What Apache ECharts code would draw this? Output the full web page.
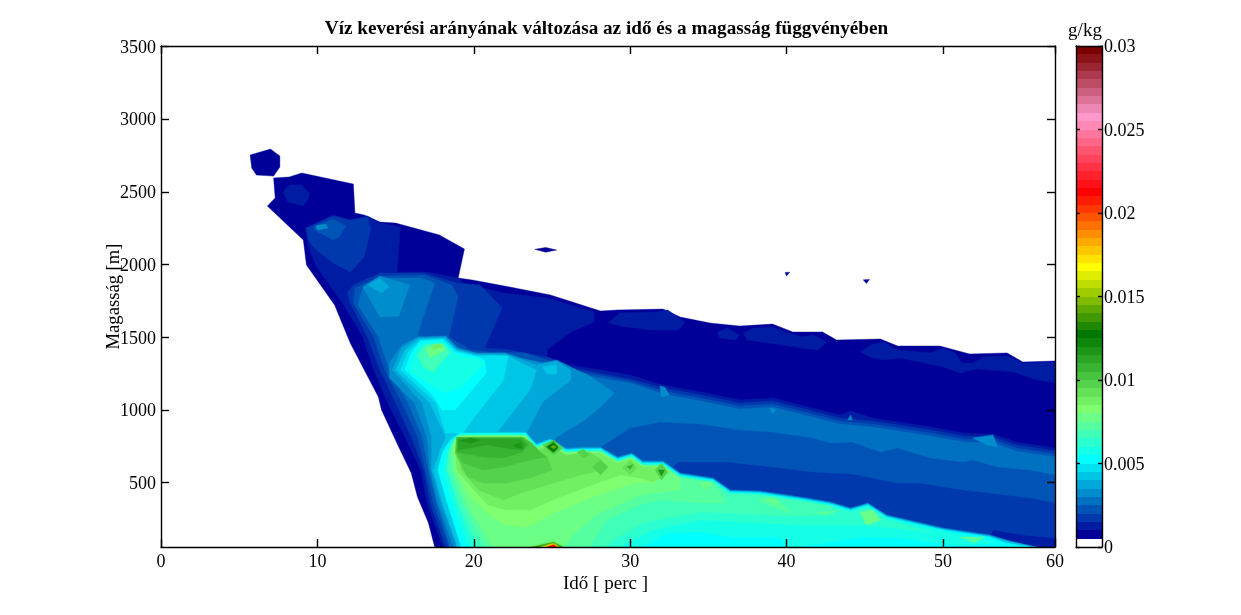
<!DOCTYPE html>
<html><head><meta charset="utf-8">
<style>html,body{margin:0;padding:0;background:#fff}#c{width:1241px;height:615px}</style>
<script src="https://cdn.jsdelivr.net/npm/echarts@6/dist/echarts.min.js"></script>
</head><body><div id="c"></div>
<script>
// Axis ticks
const xTickValues=[0,10,20,30,40,50,57.16];
const xTickLabels=['0','10','20','30','40','50','60'];
const yTickValues=[500,1000,1500,2000,2500,3000,3500];
const barTickValues=[0,0.005,0.01,0.015,0.02,0.025,0.03];
const barLevels=[0,.0005,.001,.0015,.002,.0025,.003,.0035,.004,.0045,.005,.0055,.006,.0065,.007,.0075,.008,.0085,.009,.0095,.01,.0105,.011,.0115,.012,.0125,.013,.0135,.014,.0145,.015,.0155,.016,.0165,.017,.0175,.018,.0185,.019,.0195,.02,.0205,.021,.0215,.022,.0225,.023,.0235,.024,.0245,.025,.0255,.026,.0265,.027,.0275,.028,.0285,.029,.0295];
const colorStops=[[0,'#ffffff'],[1,'#000099'],[5,'#0070c0'],[10,'#00ffff'],[16,'#80ff70'],[25,'#007700'],[33,'#ffff00'],[42,'#ff0000'],[51,'#ff99cc'],[59,'#7a0000']];

// Contour outlines: [time (min), height (m)]; the name gives the contour level (x 0.0005 g/kg)
const L01_main=[[17.5,57],[17.1,222],[16.4,401],[16.0,566],[15.2,745],[14.1,1000],[13.9,1089],[12.9,1295],[12.1,1460],[11.1,1722],[9.3,1997],[9.1,2169],[6.8,2403],[7.3,2458],[7.2,2596],[8.2,2603],[9.0,2630],[12.3,2554],[12.4,2355],[13.0,2341],[14.0,2293],[15.0,2286],[17.8,2204],[19.4,2107],[19.0,1908],[19.9,1894],[22.3,1846],[24.9,1791],[28.1,1681],[29.2,1688],[32.1,1694],[33.2,1639],[35.1,1598],[37.0,1577],[39.1,1591],[40.4,1536],[42.3,1536],[43.2,1481],[46.0,1488],[47.1,1440],[49.8,1440],[51.7,1385],[54.1,1392],[55.1,1330],[57.16,1337],[57.16,57]];
const L01_blob=[[5.7,2754],[7.0,2795],[7.6,2747],[7.6,2671],[7.2,2609],[6.1,2616],[5.8,2665]];
const L01_isle1=[[23.9,2105],[24.6,2118],[25.3,2100],[24.6,2085]];
const L01_isle2=[[39.9,1945],[40.2,1948],[40.0,1922]];
const L01_isle3=[[44.9,1895],[45.3,1898],[45.1,1870]];
const L02_blob=[[7.8,2500],[8.2,2548],[9.0,2548],[9.5,2493],[9.4,2451],[9.1,2403],[8.1,2431]];
const L02_main=[[18.0,57],[17.0,360],[16.6,587],[15.6,814],[14.5,1048],[13.6,1275],[12.9,1502],[11.6,1736],[10.0,1977],[9.5,2100],[9.2,2252],[11.0,2341],[12.1,2307],[13.2,2334],[14.0,2286],[15.3,2259],[15.1,1949],[17.0,1949],[19.0,1908],[19.3,1873],[21.9,1805],[24.7,1770],[27.7,1674],[27.7,1605],[26.2,1536],[24.7,1412],[24.7,1364],[26.2,1309],[30.0,1240],[32.1,1172],[34.5,1123],[37.0,1068],[39.1,1082],[40.9,1034],[43.4,965],[44.1,993],[45.5,945],[49.2,883],[51.3,841],[53.2,834],[54.7,779],[57.16,738],[57.16,57]];
const L02_p1=[[28.6,1598],[29.3,1667],[31.6,1674],[32.4,1688],[33.5,1605],[33.1,1550],[31.3,1550],[29.3,1577]];
const L02_p2=[[35.6,1536],[36.2,1564],[37.0,1516],[36.7,1481],[35.7,1495]];
const L02_p3=[[37.2,1529],[37.9,1564],[39.1,1571],[39.9,1536],[41.0,1502],[41.7,1516],[42.6,1467],[42.0,1412],[40.9,1426],[38.9,1460],[37.5,1481]];
const L02_p4=[[44.7,1399],[45.5,1454],[46.2,1467],[47.1,1412],[49.2,1392],[50.0,1426],[50.8,1392],[51.2,1323],[51.9,1323],[52.6,1364],[54.1,1371],[55.1,1323],[57.16,1330],[57.16,1185],[56.0,1206],[54.5,1261],[52.2,1282],[51.1,1254],[50.0,1295],[47.3,1357],[46.2,1344],[45.5,1357]];
const L03_up=[[9.3,2252],[11.0,2334],[12.1,2307],[13.2,2327],[13.4,2245],[13.0,2052],[12.1,1949],[11.0,2011],[9.8,2114],[9.4,2169]];
const L03_main=[[18.2,57],[17.2,360],[16.8,587],[16.0,814],[15.0,1048],[14.0,1275],[13.2,1502],[12.1,1736],[11.9,1805],[12.3,1860],[14.0,1942],[16.8,1942],[18.9,1873],[20.4,1860],[21.8,1701],[20.7,1426],[22.3,1412],[24.9,1357],[26.3,1289],[30.0,1213],[32.1,1151],[34.5,1103],[37.0,1048],[39.1,1061],[40.9,1013],[43.4,945],[45.5,924],[49.2,862],[51.3,821],[53.2,814],[54.7,759],[57.16,717],[57.16,119],[55.1,140],[54.3,153],[53.2,174],[52.7,57]];
const L04_up=[[9.8,2265],[11.0,2314],[11.8,2265],[11.4,2190],[11.0,2169],[10.4,2204],[9.8,2238]];
const L04_main=[[18.4,57],[17.4,360],[16.9,587],[16.4,814],[15.4,1048],[14.3,1275],[13.6,1502],[12.3,1736],[12.4,1839],[14.0,1921],[16.9,1928],[18.6,1860],[19.0,1777],[18.4,1502],[19.8,1412],[21.0,1399],[23.3,1392],[24.7,1344],[26.5,1268],[30.0,1199],[32.1,1130],[34.5,1082],[37.0,1027],[39.1,1041],[40.9,993],[43.4,924],[45.5,903],[49.2,841],[51.3,800],[53.2,793],[54.7,738],[57.16,697],[57.16,360],[55.6,394],[51.3,449],[48.5,497],[47.1,497],[44.2,559],[42.8,566],[41.7,573],[39.1,607],[36.2,642],[33.1,642],[32.5,587],[30.6,380],[21.7,57]];
const L05_main=[[18.5,57],[17.6,360],[17.1,587],[16.7,814],[15.8,1048],[14.6,1275],[13.9,1502],[12.6,1722],[12.9,1839],[14.3,1908],[16.6,1908],[17.5,1873],[16.4,1516],[17.5,1447],[19.1,1399],[21.9,1357],[24.9,1323],[26.6,1247],[30.0,1185],[32.1,1110],[34.5,1061],[37.0,1006],[39.1,1020],[40.9,972],[43.4,903],[45.5,883],[49.2,821],[51.3,779],[53.2,772],[54.7,717],[57.16,676],[57.16,552],[55.6,587],[53.5,607],[51.9,656],[51.3,642],[49.2,669],[47.1,738],[46.0,711],[44.2,779],[42.8,772],[41.7,807],[39.1,848],[37.0,862],[34.5,903],[31.9,917],[30.0,876],[28.1,745],[27.4,587],[21.7,243]];
const L06_up=[[12.9,1846],[14.0,1921],[15.9,1860],[15.2,1646],[14.0,1639]];
const L06_tiny=[[9.9,2265],[10.5,2279],[10.7,2252],[10.0,2238]];
const L06_main=[[18.7,57],[17.7,360],[17.2,587],[17.0,814],[16.2,1048],[14.6,1220],[14.6,1323],[15.4,1447],[16.4,1502],[18.2,1509],[19.0,1426],[20.2,1392],[22.0,1392],[23.0,1357],[24.4,1323],[25.3,1344],[26.3,1289],[27.3,1240],[29.0,1117],[28.1,1020],[27.1,931],[25.3,814],[24.9,759],[23.0,449]];
const L06_p1=[[31.9,1165],[32.2,1158],[32.5,1103],[32.0,1089]];
const L06_p2=[[38.9,1013],[39.3,1006],[39.1,972]];
const L06_p3=[[51.9,807],[53.2,828],[53.5,745],[52.8,759]];
const L06_p4=[[44.1,965],[44.2,931],[43.9,931]];
const L06_rim=[[18.7,57],[17.8,360],[17.5,587],[17.7,738],[18.2,821],[19.0,855],[23.3,855],[24.0,772],[24.9,807],[25.9,738],[27.0,745],[28.1,745],[29.2,676],[30.1,704],[30.8,649],[32.1,649],[33.2,566],[35.3,532],[36.4,449],[38.3,442],[40.9,401],[42.8,367],[44.1,325],[45.2,360],[46.4,277],[50.0,188],[53.0,140],[54.3,98],[56.0,57]];
const L07_up=[[13.2,1860],[14.0,1908],[14.6,1846],[14.1,1805]];
const L07_main=[[18.9,57],[17.9,360],[17.3,587],[17.3,814],[16.7,1048],[14.8,1275],[15.4,1426],[16.4,1495],[18.2,1502],[18.9,1419],[20.2,1385],[22.0,1385],[23.1,1344],[24.0,1309],[25.3,1337],[26.2,1275],[26.2,1206],[24.4,1055],[23.4,848],[22.6,656]];
const L08_main=[[19.0,57],[18.0,360],[17.4,587],[18.2,814],[17.2,1048],[15.0,1275],[15.6,1412],[16.5,1488],[18.1,1495],[18.9,1412],[20.2,1378],[22.1,1378],[22.8,1337],[24.0,1275],[23.6,1137],[21.5,848],[21.4,656]];
const L08_p1=[[24.4,1295],[25.3,1309],[25.3,1247],[24.7,1247]];
const L08_rim=[[19.0,57],[18.0,360],[17.6,587],[17.8,724],[18.4,814],[19.0,848],[23.3,848],[24.0,765],[24.9,800],[25.9,731],[27.0,738],[28.1,738],[29.2,669],[30.1,697],[30.8,642],[32.1,642],[33.2,559],[35.3,525],[36.4,442],[38.3,435],[40.9,394],[42.8,360],[44.1,318],[45.2,353],[46.4,270],[50.0,181],[53.0,133],[54.3,91],[55.9,57]];
const L09_up=[[17.6,1048],[15.3,1275],[15.8,1399],[16.6,1481],[18.1,1488],[18.9,1405],[20.2,1371],[22.2,1371],[21.9,1206],[19.9,931],[19.3,841],[18.2,841]];
const L10_up=[[15.6,1275],[16.0,1392],[16.6,1474],[18.0,1481],[18.8,1399],[20.2,1364],[20.7,1344],[20.8,1254],[18.8,1000],[18.0,1000],[17.2,1123]];
const L10_rim=[[19.2,57],[18.3,360],[17.7,587],[18.0,711],[18.5,793],[19.1,841],[23.3,841],[24.0,758],[24.9,793],[25.9,724],[27.0,731],[28.1,731],[29.2,662],[30.1,690],[30.8,635],[32.1,635],[33.2,552],[35.3,518],[36.4,435],[38.3,428],[40.9,387],[42.8,353],[44.1,311],[45.2,346],[46.4,263],[50.0,174],[53.0,126],[54.0,84],[55.5,57]];
const L11_up=[[15.9,1261],[16.3,1426],[16.9,1467],[18.0,1467],[18.7,1399],[19.3,1364],[20.2,1357],[20.7,1323],[19.2,1158],[18.2,1117],[17.2,1172]];
const L11_low=[[19.6,57],[18.6,360],[18.0,587],[18.2,704],[18.7,779],[19.1,834],[23.3,834],[24.0,751],[24.9,786],[25.9,717],[27.0,724],[28.1,724],[29.2,655],[30.1,683],[30.8,628],[32.1,628],[33.2,545],[35.3,511],[36.4,428],[38.3,421],[40.9,380],[42.8,346],[44.1,304],[45.2,339],[46.4,256],[50.0,167],[53.6,85],[51.1,64],[47.3,119],[44.7,126],[40.9,57],[40.0,57],[39.6,126],[36.2,126],[34.5,160],[32.4,153],[30.8,57]];
const L12_low=[[20.0,57],[18.9,360],[18.3,587],[18.4,697],[18.9,772],[19.2,831],[23.3,831],[24.0,748],[24.9,783],[25.9,714],[27.0,721],[28.1,721],[29.2,652],[30.1,680],[30.8,625],[32.1,625],[33.2,542],[35.3,508],[36.4,425],[38.3,418],[40.9,377],[42.8,343],[44.1,301],[45.2,336],[46.4,253],[49.2,160],[44.7,208],[40.9,208],[37.0,229],[34.5,243],[31.5,174],[29.3,57]];
const L13_up=[[16.4,1378],[16.9,1447],[18.0,1460],[18.5,1399],[17.4,1261],[16.8,1289]];
const L13_low=[[20.3,57],[19.0,360],[18.3,587],[18.4,711],[18.6,779],[19.0,827],[23.3,827],[24.0,744],[24.9,779],[25.9,710],[27.0,717],[28.1,717],[29.2,648],[30.1,676],[30.8,621],[32.1,621],[33.2,538],[35.3,504],[36.4,421],[38.3,414],[40.9,373],[42.8,339],[43.1,277],[40.2,270],[34.5,298],[31.0,229],[29.2,126],[28.4,57]];
const L14_low=[[20.7,57],[19.3,360],[18.5,587],[18.5,711],[18.7,786],[19.1,824],[23.3,824],[24.0,741],[24.9,776],[25.9,707],[27.0,714],[28.1,714],[29.2,645],[30.1,673],[30.8,618],[32.1,618],[33.2,535],[35.3,501],[36.2,360],[34.5,360],[31.9,380],[30.6,346],[28.5,243],[27.4,57]];
const L14_p1=[[38.1,380],[39.1,401],[40.4,291],[38.7,346]];
const L14_p2=[[51.1,126],[52.7,126],[52.0,85]];
const L14_p3=[[41.7,291],[43.4,312],[42.5,277]];
const L15_up=[[16.9,1426],[18.0,1447],[18.2,1412],[17.2,1357]];
const L15_low=[[21.2,57],[19.6,346],[18.7,587],[18.6,724],[18.8,793],[19.3,821],[23.3,821],[24.0,738],[24.9,773],[25.9,704],[27.0,711],[28.1,711],[29.2,642],[30.1,670],[30.8,615],[32.1,615],[33.2,532],[33.2,449],[30.6,415],[27.8,277],[26.3,140],[25.8,57]];
const L15_p1=[[34.5,504],[35.3,504],[34.7,449]];
const L15_p2=[[44.7,298],[45.5,312],[46.0,243],[45.1,208]];
const L15_p3=[[38.6,380],[39.3,387],[39.6,346]];
const L16_low=[[19.8,401],[18.9,587],[18.7,745],[19.0,793],[19.5,817],[23.3,817],[24.0,734],[24.9,769],[25.9,700],[27.0,707],[28.1,707],[29.2,638],[30.1,666],[30.8,611],[32.1,611],[32.2,552],[31.6,504],[30.2,497],[27.6,401],[25.1,291],[23.4,195],[22.0,208],[21.0,277]];
const L17_up=[[17.3,1447],[18.0,1454],[18.0,1433],[17.4,1412]];
const L17_low=[[20.9,346],[20.0,449],[18.9,587],[18.8,745],[19.1,786],[19.6,814],[23.3,814],[24.0,731],[24.9,766],[25.9,697],[27.0,704],[28.1,704],[29.2,635],[30.1,663],[30.8,608],[32.1,608],[32.5,573],[32.0,532],[31.4,504],[30.6,532],[29.4,552],[27.9,497],[25.5,401],[23.6,312],[22.1,312]];
const L17_peak=[[23.4,57],[25.1,100],[25.8,57]];
const L18_low=[[20.3,449],[21.9,380],[23.0,429],[25.1,497],[26.8,552],[28.3,587],[28.2,656],[27.4,711],[27.0,711],[25.9,683],[25.0,752],[24.0,717],[23.3,807],[19.2,807],[18.9,752],[19.2,587]];
const L18_b1=[[29.5,601],[30.0,656],[30.4,601],[30.0,552]];
const L19_main=[[19.6,539],[20.6,497],[22.1,497],[23.6,532],[25.0,587],[24.7,676],[24.2,717],[23.7,772],[23.1,814],[18.9,814],[18.8,704]];
const L19_b1=[[24.4,759],[25.1,793],[25.7,738],[25.1,690]];
const L19_b2=[[26.6,711],[27.0,731],[27.4,690],[27.0,669]];
const L19_b3=[[31.6,587],[32.0,635],[32.4,573],[32.0,518]];
const L19_b4=[[28.1,656],[28.6,607],[28.1,552],[27.6,607]];
const L20_main=[[19.3,635],[20.6,587],[21.9,607],[23.6,656],[24.6,676],[24.1,724],[23.7,772],[23.1,810],[18.9,810],[18.9,711]];
const L21_main=[[18.9,711],[20.6,676],[21.9,669],[23.1,711],[23.5,759],[23.1,807],[19.0,807]];
const L21_b1=[[29.8,610],[30.2,625],[30.0,590]];
const L22_main=[[19.0,724],[20.8,759],[22.1,738],[23.1,724],[23.3,759],[23.0,800],[19.0,800]];
const L22_b1=[[24.6,745],[25.1,786],[25.4,738],[25.1,704]];
const L22_peak=[[23.7,57],[25.1,90],[25.7,57]];
const L23_a=[[19.1,786],[19.8,807],[20.4,793],[19.8,772]];
const L23_b=[[22.5,759],[23.0,772],[23.1,738],[22.8,738]];
const L23_b3=[[31.8,587],[32.2,587],[32.0,545]];
const L25_b1=[[24.7,745],[25.1,772],[25.4,745],[25.1,711]];
const L28_b1=[[24.9,745],[25.1,759],[25.3,745],[25.1,731]];
const L30_peak=[[24.2,57],[25.1,85],[25.5,57]];
const L35_peak=[[24.4,57],[25.1,78],[25.4,57]];
const L42_peak=[[24.7,57],[25.1,72],[25.3,57]];

const layers=[[1,L01_main],[1,L01_blob],[1,L01_isle1],[1,L01_isle2],[1,L01_isle3],
[2,L02_blob],[2,L02_main],[2,L02_p1],[2,L02_p2],[2,L02_p3],[2,L02_p4],
[3,L03_up],[3,L03_main],[4,L04_up],[4,L04_main],[5,L05_main],
[6,L06_up],[6,L06_tiny],[6,L06_main],[6,L06_p1],[6,L06_p2],[6,L06_p3],[6,L06_p4],[6,L06_rim],
[7,L07_up],[7,L07_main],[8,L08_main],[8,L08_p1],[8,L08_rim],[9,L09_up],[10,L10_up],[10,L10_rim],
[11,L11_up],[11,L11_low],[12,L12_low],[13,L13_up],[13,L13_low],[14,L14_low],[14,L14_p1],[14,L14_p2],[14,L14_p3],
[15,L15_up],[15,L15_low],[15,L15_p1],[15,L15_p2],[15,L15_p3],[16,L16_low],[17,L17_up],[17,L17_low],[17,L17_peak],
[18,L18_low],[18,L18_b1],[19,L19_main],[19,L19_b1],[19,L19_b2],[19,L19_b3],[19,L19_b4],[20,L20_main],[21,L21_main],[21,L21_b1],
[22,L22_main],[22,L22_b1],[22,L22_peak],[23,L23_a],[23,L23_b],[23,L23_b3],[25,L25_b1],[28,L28_b1],[30,L30_peak],[35,L35_peak],[42,L42_peak]];

function hex(c){return [1,3,5].map(i=>parseInt(c.substr(i,2),16));}
function levelColor(k){
  for(let i=1;i<colorStops.length;i++){
    const [k1,c1]=colorStops[i];
    if(k<=k1){
      const [k0,c0]=colorStops[i-1];
      const f=(k-k0)/(k1-k0),a=hex(c0),b=hex(c1);
      return 'rgb('+a.map((v,j)=>Math.round(v+(b[j]-v)*f)).join(',')+')';
    }
  }
  return colorStops[colorStops.length-1][1];
}
const FONT='"Liberation Serif"';
const base={fontFamily:FONT,fontSize:18,color:'#000'};
const line={lineStyle:{color:'#000',width:1.4}};
const contourSeries=layers.map(([k,pts])=>({
  type:'custom',coordinateSystem:'cartesian2d',xAxisIndex:0,yAxisIndex:0,clip:true,silent:true,
  data:[pts[0]],
  renderItem:(p,api)=>({type:'polygon',shape:{points:pts.map(q=>api.coord(q))},style:{fill:levelColor(k),stroke:levelColor(k),lineWidth:0.4}})
}));
const barSeries={
  type:'custom',coordinateSystem:'cartesian2d',xAxisIndex:2,yAxisIndex:2,clip:true,silent:true,
  data:barLevels.map((v,i)=>[0,v,i]),
  renderItem:(p,api)=>{
    const i=api.value(2),lo=api.value(1);
    const hi=i+1<barLevels.length?barLevels[i+1]:barTickValues[barTickValues.length-1];
    const a=api.coord([0,lo]),b=api.coord([1,hi]);
    const y0=Math.round(b[1]),y1=Math.round(a[1]);
    return {type:'rect',shape:{x:a[0],y:y0,width:b[0]-a[0],height:y1-y0},style:{fill:levelColor(i)}};
  }
};
const xCommon={type:'value',min:0,max:xTickValues[xTickValues.length-1],gridIndex:0,z:10,splitLine:{show:false},axisLine:{onZero:false,...line},
  axisTick:{inside:true,length:8,customValues:xTickValues,...line}};
const yCommon={type:'value',min:57,max:3504,gridIndex:0,z:10,splitLine:{show:false},axisLine:{onZero:false,...line},
  axisTick:{inside:true,length:8,customValues:yTickValues,...line}};
const chart=echarts.init(document.getElementById('c'),null,{renderer:'canvas'});
chart.setOption({
  animation:false,backgroundColor:'#fff',
  title:[
    {text:'Víz keverési arányának változása az idő és a magasság függvényében',left:601.5,top:15,textAlign:'center',textStyle:{fontFamily:FONT,fontSize:19.2,fontWeight:'bold',color:'#000'}},
    {text:'g/kg',left:1080,top:17,textAlign:'center',textStyle:{fontFamily:FONT,fontSize:19,fontWeight:'normal',color:'#000'}}
  ],
  grid:[{left:161,top:46,width:894,height:501},{left:1076,top:46,width:26,height:501}],
  xAxis:[
    {...xCommon,position:'bottom',name:'Idő [ perc ]',nameLocation:'middle',nameMoveOverlap:false,nameGap:28,nameTextStyle:{...base,fontSize:19,padding:[0,5,0,0]},
     axisLabel:{...base,margin:6,customValues:xTickValues,formatter:v=>xTickLabels[xTickValues.indexOf(v)]}},
    {...xCommon,position:'top',axisLabel:{show:false}},
    {type:'value',gridIndex:1,min:0,max:1,position:'bottom',splitLine:{show:false},axisLine:{onZero:false,...line},axisTick:{show:false},axisLabel:{show:false},z:10},
    {type:'value',gridIndex:1,min:0,max:1,position:'top',splitLine:{show:false},axisLine:{onZero:false,...line},axisTick:{show:false},axisLabel:{show:false},z:10}
  ],
  yAxis:[
    {...yCommon,position:'left',name:'Magasság [m]',nameLocation:'middle',nameMoveOverlap:false,nameGap:37,nameRotate:90,nameTextStyle:{...base,fontSize:18.6},
     axisLabel:{...base,margin:5,verticalAlign:'top',lineHeight:3,customValues:yTickValues,formatter:v=>String(v)}},
    {...yCommon,position:'right',axisLabel:{show:false}},
    {type:'value',gridIndex:1,min:0,max:0.03,position:'right',z:10,splitLine:{show:false},axisLine:{onZero:false,...line},
     axisTick:{inside:true,length:4,customValues:barTickValues,...line},
     axisLabel:{...base,margin:2,verticalAlign:'top',lineHeight:3,customValues:barTickValues,formatter:v=>String(v)}},
    {type:'value',gridIndex:1,min:0,max:0.03,position:'left',z:10,splitLine:{show:false},axisLine:{onZero:false,...line},
     axisTick:{inside:true,length:4,customValues:barTickValues,...line},axisLabel:{show:false}}
  ],
  series:[...contourSeries,barSeries]
});
</script></body></html>
